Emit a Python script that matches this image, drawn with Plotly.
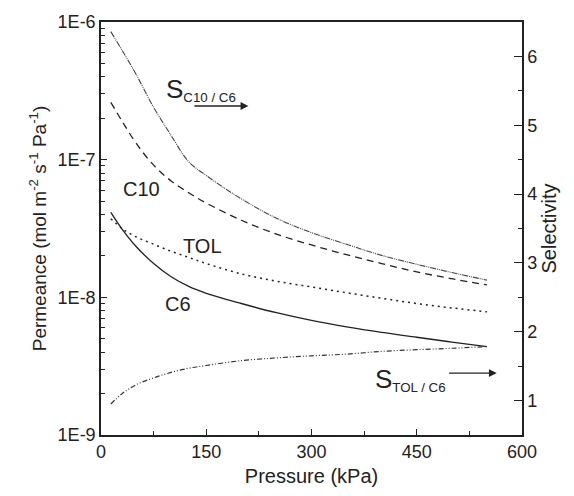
import plotly.graph_objects as go

# ---- data ----
pressure_kpa = [14, 30, 50, 75, 100, 125, 150, 200, 250, 300, 350, 400, 450, 500, 550]

perm_c10 = [2.61e-7, 1.905e-7, 1.318e-7, 9.12e-8, 7.0e-8, 5.75e-8, 4.84e-8, 3.63e-8,
            2.88e-8, 2.40e-8, 2.04e-8, 1.76e-8, 1.53e-8, 1.365e-8, 1.23e-8]
perm_tol = [3.72e-8, 3.16e-8, 2.75e-8, 2.43e-8, 2.16e-8, 1.95e-8, 1.76e-8, 1.48e-8,
            1.31e-8, 1.19e-8, 1.08e-8, 9.84e-9, 9.02e-9, 8.38e-9, 7.85e-9]
perm_c6 = [4.14e-8, 3.13e-8, 2.34e-8, 1.76e-8, 1.41e-8, 1.20e-8, 1.07e-8, 9.02e-9,
           7.73e-9, 6.79e-9, 6.10e-9, 5.56e-9, 5.13e-9, 4.73e-9, 4.38e-9]
sel_c10_c6 = [6.36, 6.09, 5.74, 5.26, 4.85, 4.47, 4.27, 3.93, 3.65, 3.44, 3.27, 3.11,
              2.98, 2.86, 2.75]
sel_tol_c6 = [0.95, 1.10, 1.23, 1.33, 1.41, 1.47, 1.51, 1.58, 1.62, 1.65, 1.675, 1.715,
              1.74, 1.76, 1.785]

x_ticks = [0, 150, 300, 450, 600]
y_tickvals = [1e-9, 1e-8, 1e-7, 1e-6]
y_ticktext = ["1E-9", "1E-8", "1E-7", "1E-6"]
y_minor_vals = [m * d for d in (1e-9, 1e-8, 1e-7) for m in range(2, 10)]
y2_ticks = [1, 2, 3, 4, 5, 6]

FONT = "Liberation Sans, Arial, sans-serif"
INK = "#222222"

fig = go.Figure()

fig.add_trace(go.Scatter(x=pressure_kpa, y=perm_c10, mode="lines", line_shape="spline",
                         line=dict(color=INK, width=1.3, dash="7px,5px"), name="C10"))
fig.add_trace(go.Scatter(x=pressure_kpa, y=perm_tol, mode="lines", line_shape="spline",
                         line=dict(color=INK, width=1.5, dash="2px,4px"), name="TOL"))
fig.add_trace(go.Scatter(x=pressure_kpa, y=perm_c6, mode="lines", line_shape="spline",
                         line=dict(color=INK, width=1.3), name="C6"))
fig.add_trace(go.Scatter(x=pressure_kpa, y=sel_c10_c6, mode="lines", line_shape="spline",
                         yaxis="y2", line=dict(color="#444444", width=1.1,
                                               dash="6px,1px,1px,1px,1px,1px"),
                         name="S C10/C6"))
fig.add_trace(go.Scatter(x=pressure_kpa, y=sel_tol_c6, mode="lines", line_shape="spline",
                         yaxis="y2", line=dict(color="#333333", width=1.2,
                                               dash="5px,2px,1px,2px,1px,2px"),
                         name="S TOL/C6"))

annot_font = dict(family=FONT, size=20, color=INK)
sub_font = dict(family=FONT, size=19, color=INK)
annotations = [
    dict(x=90, y=5.52, xref="x", yref="y2",
         text="<span style='font-size:26px'>S</span><sub>C10 / C6</sub>",
         showarrow=False, xanchor="left", yanchor="middle", font=sub_font),
    dict(x=58, y=4.08, xref="x", yref="y2", text="C10", showarrow=False, font=annot_font),
    dict(x=144, y=3.25, xref="x", yref="y2", text="TOL", showarrow=False, font=annot_font),
    dict(x=110, y=2.40, xref="x", yref="y2", text="C6", showarrow=False, font=annot_font),
    dict(x=387, y=1.31, xref="x", yref="y2",
         text="<span style='font-size:26px'>S</span><sub>TOL / C6</sub>",
         showarrow=False, xanchor="left", yanchor="middle", font=sub_font),
    dict(x=210, y=5.28, xref="x", yref="y2", ax=131, ay=5.28, axref="x", ayref="y2",
         text="", showarrow=True, arrowhead=2, arrowsize=1.2, arrowwidth=1.3,
         arrowcolor=INK),
    dict(x=564, y=1.40, xref="x", yref="y2", ax=494, ay=1.40, axref="x", ayref="y2",
         text="", showarrow=True, arrowhead=2, arrowsize=1.2, arrowwidth=1.3,
         arrowcolor=INK),
]

fig.update_layout(
    width=574, height=496,
    margin=dict(l=101, r=52, t=18, b=57),
    paper_bgcolor="white", plot_bgcolor="white",
    showlegend=False,
    font=dict(family=FONT, size=18, color=INK),
    annotations=annotations,
    xaxis=dict(
        range=[0, 600], tickvals=x_ticks, ticks="inside", ticklen=6, tickwidth=1.3,
        tickcolor=INK, showline=True, linecolor=INK, linewidth=1.5, mirror=True,
        showgrid=False, zeroline=False,
        minor=dict(dtick=75, tick0=0, ticks="inside", ticklen=4, tickcolor=INK,
                   showgrid=False),
        title=dict(text="Pressure (kPa)", font=dict(size=20), standoff=8),
        tickfont=dict(size=18),
    ),
    yaxis=dict(
        type="log", range=[-9, -6], tickvals=y_tickvals, ticktext=y_ticktext,
        ticks="inside", ticklen=6, tickwidth=1.3, tickcolor=INK,
        showline=True, linecolor=INK, linewidth=1.5, showgrid=False, zeroline=False,
        minor=dict(tickmode="array", tickvals=y_minor_vals, ticks="inside", ticklen=4,
                   tickcolor=INK, showgrid=False),
        title=dict(text="Permeance (mol m<sup>-2</sup> s<sup>-1</sup> Pa<sup>-1</sup>)",
                   font=dict(size=19), standoff=6),
        tickfont=dict(size=18),
    ),
    yaxis2=dict(
        overlaying="y", side="right", range=[0.5, 6.5], tickvals=y2_ticks,
        ticks="inside", ticklen=8, tickwidth=1.3, tickcolor=INK,
        showline=True, linecolor=INK, linewidth=1.5, showgrid=False, zeroline=False,
        minor=dict(dtick=0.5, tick0=0.5, ticks="inside", ticklen=4, tickcolor=INK,
                   showgrid=False),
        title=dict(text="Selectivity", font=dict(size=20), standoff=6),
        tickfont=dict(size=18),
    ),
)

fig.write_html("out.html")
